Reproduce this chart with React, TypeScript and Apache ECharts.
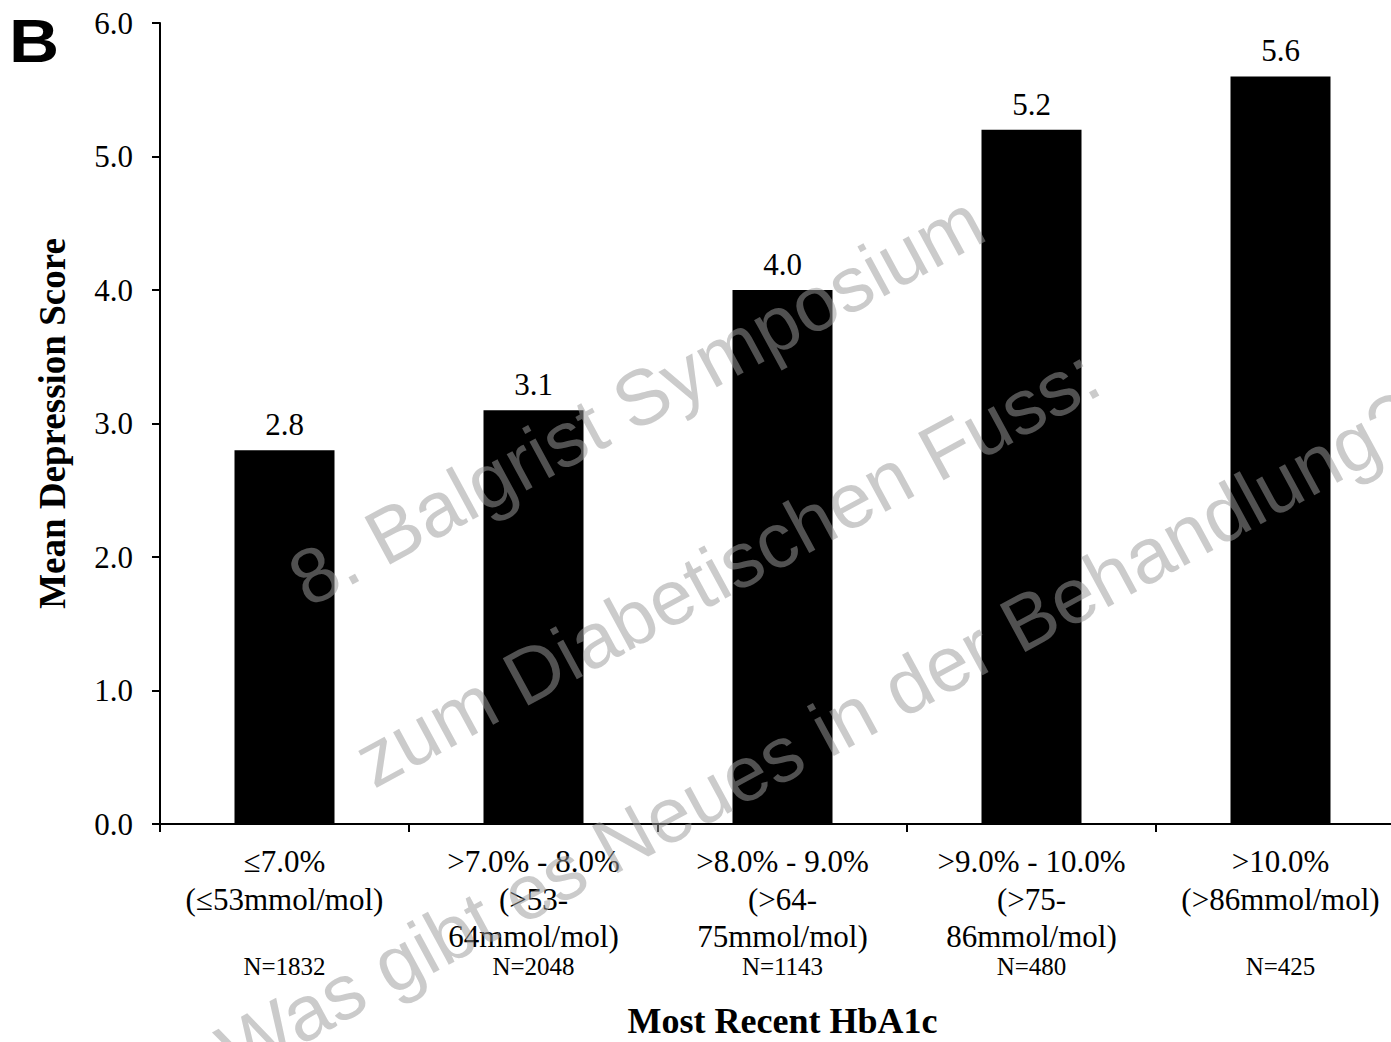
import React, { useEffect, useRef } from "react";
import * as echarts from "echarts";

const categories = [
  "≤7.0%\n(≤53mmol/mol)",
  ">7.0% - 8.0%\n(>53-\n64mmol/mol)",
  ">8.0% - 9.0%\n(>64-\n75mmol/mol)",
  ">9.0% - 10.0%\n(>75-\n86mmol/mol)",
  ">10.0%\n(>86mmol/mol)",
];
const nLabels = ["N=1832", "N=2048", "N=1143", "N=480", "N=425"];
const meanScores = [2.8, 3.1, 4.0, 5.2, 5.6];
const yTicks = { min: 0, max: 6, interval: 1 };
const watermarkLines = [
  "8. Balgrist Symposium",
  "zum Diabetischen Fuss:",
  "Was gibt es Neues in der Behandlung?",
];

const SERIF = "'Liberation Serif', 'Times New Roman', serif";
const SANS = "'Liberation Sans', Arial, sans-serif";

export default function App() {
  const ref = useRef<HTMLDivElement>(null);
  useEffect(() => {
    if (!ref.current) return;
    const chart = echarts.init(ref.current, null, { renderer: "svg" });
    const rot = (28.5 * Math.PI) / 180;
    chart.setOption({
      animation: false,
      backgroundColor: "#ffffff",
      grid: {
        left: 160,
        top: 23,
        width: 1245,
        height: 801,
        containLabel: false,
        outerBoundsMode: "none",
      },
      xAxis: {
        type: "category",
        data: categories,
        name: "Most Recent HbA1c",
        nameLocation: "middle",
        nameGap: 182,
        nameTextStyle: {
          fontFamily: SERIF,
          fontWeight: "bold",
          fontSize: 36,
          lineHeight: 30,
          color: "#000",
        },
        axisLine: { lineStyle: { color: "#000", width: 2 } },
        axisTick: { show: true, length: 8, lineStyle: { color: "#000", width: 2 } },
        axisLabel: {
          interval: 0,
          margin: 19,
          color: "#000",
          fontFamily: SERIF,
          formatter: (value: string, idx: number) => {
            const lines = value.split("\n");
            while (lines.length < 3) lines.push(" ");
            return lines.map((l) => `{c|${l}}`).join("\n") + `\n{n|${nLabels[idx]}}`;
          },
          rich: {
            c: { fontFamily: SERIF, fontSize: 31, lineHeight: 37.5, color: "#000" },
            n: { fontFamily: SERIF, fontSize: 25, lineHeight: 21, color: "#000" },
          },
        },
      },
      yAxis: {
        type: "value",
        min: yTicks.min,
        max: yTicks.max,
        interval: yTicks.interval,
        name: "Mean Depression Score",
        nameLocation: "middle",
        nameGap: 89,
        nameTextStyle: { fontFamily: SERIF, fontWeight: "bold", fontSize: 37, color: "#000" },
        axisLine: { show: true, lineStyle: { color: "#000", width: 2 } },
        axisTick: { show: true, length: 8, lineStyle: { color: "#000", width: 2 } },
        splitLine: { show: false },
        axisLabel: {
          margin: 27,
          color: "#000",
          fontFamily: SERIF,
          fontSize: 31,
          formatter: (v: number) => v.toFixed(1),
        },
      },
      series: [
        {
          type: "bar",
          data: meanScores,
          barWidth: 100,
          itemStyle: { color: "#000" },
          label: {
            show: true,
            position: "top",
            distance: 10,
            color: "#000",
            fontFamily: SERIF,
            fontSize: 31,
            formatter: (p: any) => Number(p.value).toFixed(1),
          },
        },
      ],
      graphic: [
        {
          type: "text",
          x: 9,
          y: 9,
          scaleX: 1.12,
          style: { text: "B", fontFamily: SANS, fontWeight: "bold", fontSize: 62, fill: "#000" },
        },
        {
          type: "group",
          x: 727,
          y: 567,
          rotation: rot,
          z: 100,
          children: watermarkLines.map((t, i) => ({
            type: "text",
            x: 0,
            y: (i - 1) * 190,
            z: 100,
            style: {
              text: t,
              fontFamily: SANS,
              fontSize: 78,
              fill: "rgba(155,155,155,0.52)",
              textAlign: "center",
              textVerticalAlign: "middle",
            },
          })),
        },
      ],
    });
    return () => chart.dispose();
  }, []);
  return (
    <div
      ref={ref}
      style={{ position: "fixed", left: 0, top: 0, width: 1391, height: 1042 }}
    />
  );
}
